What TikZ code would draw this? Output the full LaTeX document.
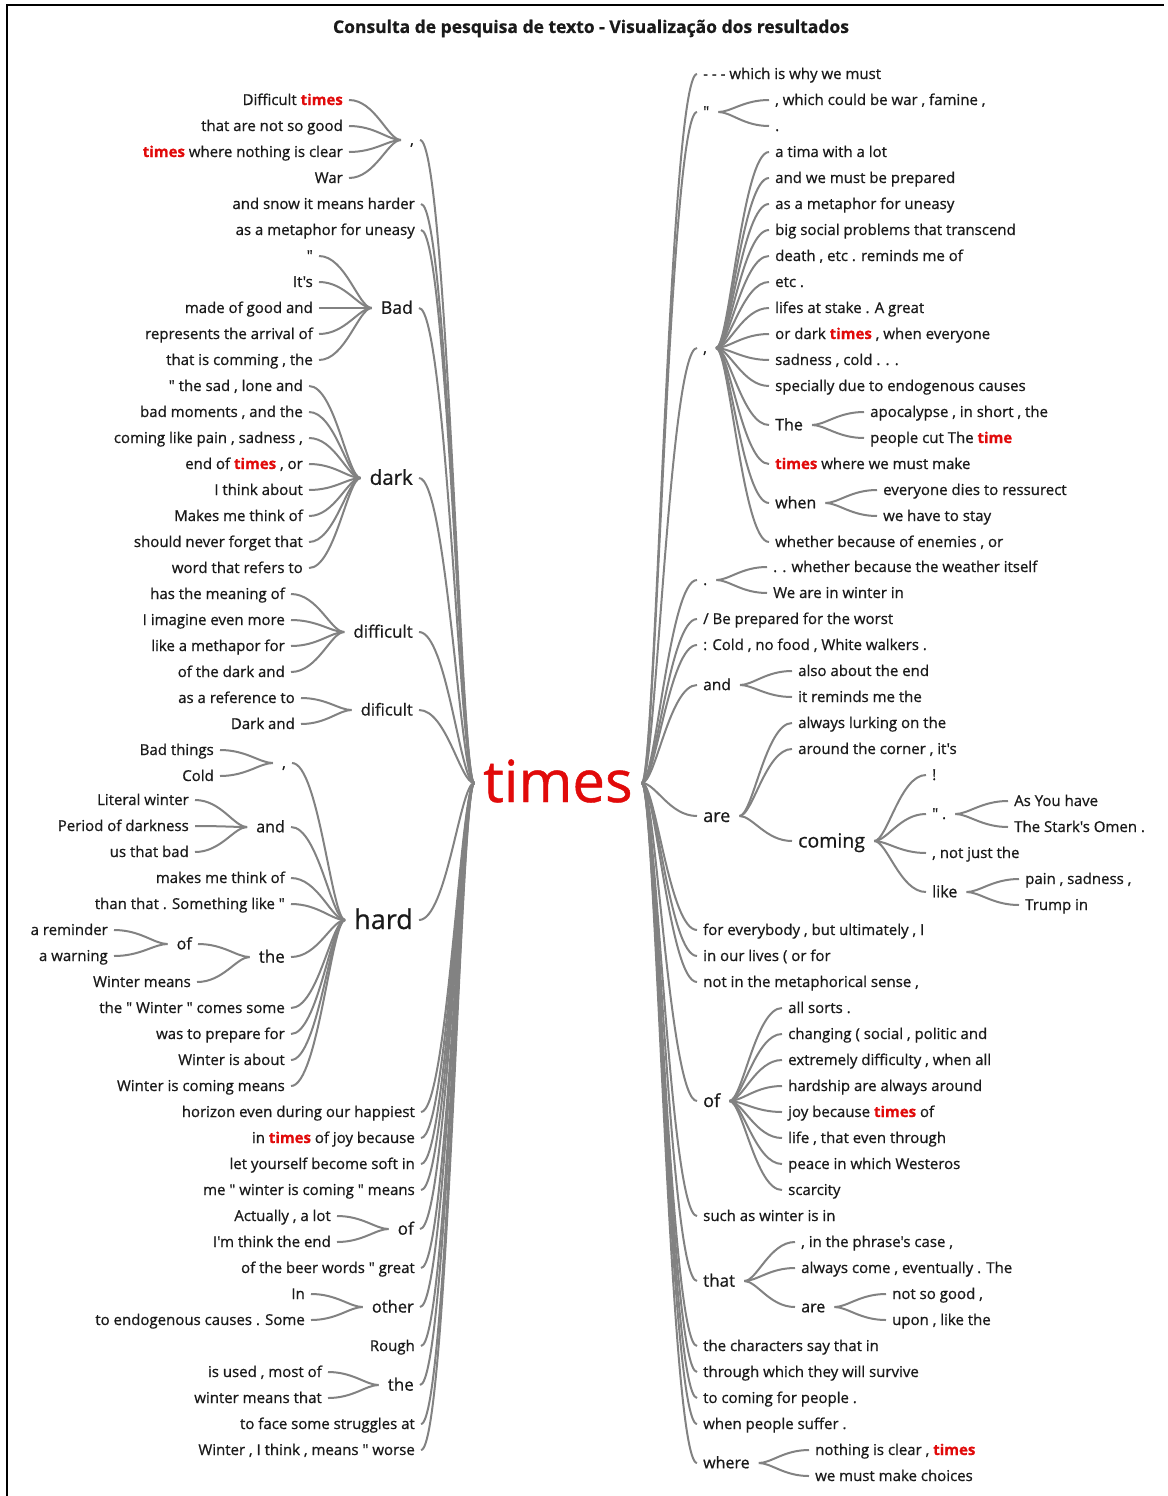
\documentclass[tikz,border=0pt]{standalone}
\usepackage{fontspec}
\setmainfont{Open Sans}[Ligatures=TeXOff,FakeBold=0.8]
\usetikzlibrary{calc}
\definecolor{txtc}{RGB}{26,26,26}
\definecolor{hlred}{RGB}{225,10,10}
\definecolor{brc}{RGB}{130,130,130}
\newcommand\hl[1]{{\bfseries\color{hlred}#1}}
\newcommand\brL[2]{\draw[br] let \p1=([xshift=6pt]#1.east), \p2=([xshift=-9pt]#2.west) in (\p1) .. controls ({0.5*\x1+0.5*\x2},\y1) and ({0.25*\x1+0.75*\x2},\y2) .. (\p2);}
\newcommand\brR[2]{\draw[br] let \p1=([xshift=9pt]#1.east), \p2=([xshift=-6pt]#2.west) in (\p1) .. controls ({0.75*\x1+0.25*\x2},\y1) and ({0.5*\x1+0.5*\x2},\y2) .. (\p2);}
\begin{document}
\begin{tikzpicture}[x=1pt,y=-1pt,
  every node/.style={inner sep=0pt,text=txtc,font=\fontsize{15}{15}\selectfont,text height=10pt,text depth=0pt},
  onL/.style={anchor=east}, onR/.style={anchor=west},
  sz/.style 2 args={font=\fontsize{#1}{#1}\selectfont,text height=#2pt},
  br/.style={draw=brc,line width=2pt}]
\useasboundingbox (0,0) rectangle (1167,1496);
\draw[line width=2pt] (7,1496) -- (7,5) -- (1164,5);
\node[font=\bfseries\fontsize{17.5}{17.5}\selectfont,text height=12pt] (title) at (591,27) {Consulta de pesquisa de texto - Visualização dos resultados};
\node[text=hlred,font=\fontsize{58}{58}\selectfont,anchor=base,text height=38pt] (T) at (558,802) {times};
% ---------------- left side ----------------
\node[onL] (La) at (414,140) {,};
\node[onL] (La1) at (343,100) {Difficult \hl{times}};
\node[onL] (La2) at (343,126) {that are not so good};
\node[onL] (La3) at (343,152) {\hl{times} where nothing is clear};
\node[onL] (La4) at (343,178) {War};
\node[onL] (Lb) at (415,204) {and snow it means harder};
\node[onL] (Lc) at (415,230) {as a metaphor for uneasy};
\node[onL,sz={17.5}{11.6}] (Ld) at (413,308) {Bad};
\node[onL] (Ld1) at (313,256) {"};
\node[onL] (Ld2) at (313,282) {It's};
\node[onL] (Ld3) at (313,308) {made of good and};
\node[onL] (Ld4) at (313,334) {represents the arrival of};
\node[onL] (Ld5) at (313,360) {that is comming , the};
\node[onL,sz={20.5}{13.6}] (Le) at (413,478) {dark};
\node[onL] (Le1) at (303,386) {" the sad , lone and};
\node[onL] (Le2) at (303,412) {bad moments , and the};
\node[onL] (Le3) at (303,438) {coming like pain , sadness ,};
\node[onL] (Le4) at (303,464) {end of \hl{times} , or};
\node[onL] (Le5) at (303,490) {I think about};
\node[onL] (Le6) at (303,516) {Makes me think of};
\node[onL] (Le7) at (303,542) {should never forget that};
\node[onL] (Le8) at (303,568) {word that refers to};
\node[onL,sz={17}{11.3}] (Lf) at (413,632) {difficult};
\node[onL] (Lf1) at (285,594) {has the meaning of};
\node[onL] (Lf2) at (285,620) {I imagine even more};
\node[onL] (Lf3) at (285,646) {like a methapor for};
\node[onL] (Lf4) at (285,672) {of the dark and};
\node[onL,sz={16.5}{11}] (Lg) at (413,710) {dificult};
\node[onL] (Lg1) at (295,698) {as a reference to};
\node[onL] (Lg2) at (295,724) {Dark and};
\node[onL,sz={27}{18}] (Lh) at (413,920) {hard};
\node[onL] (Lh1) at (286,763) {,};
\node[onL] (Lh1a) at (214,750) {Bad things};
\node[onL] (Lh1b) at (214,776) {Cold};
\node[onL,sz={16}{10.6}] (Lh2) at (285,827) {and};
\node[onL] (Lh2a) at (189,800) {Literal winter};
\node[onL] (Lh2b) at (189,826) {Period of darkness};
\node[onL] (Lh2c) at (189,852) {us that bad};
\node[onL] (Lh3) at (285,878) {makes me think of};
\node[onL] (Lh4) at (285,904) {than that . Something like "};
\node[onL,sz={17}{11.3}] (Lh5) at (285,957) {the};
\node[onL,sz={16}{10.6}] (Lh5a) at (192,944) {of};
\node[onL] (Lh5a1) at (108,930) {a reminder};
\node[onL] (Lh5a2) at (108,956) {a warning};
\node[onL] (Lh5b) at (191,982) {Winter means};
\node[onL] (Lh6) at (285,1008) {the " Winter " comes some};
\node[onL] (Lh7) at (285,1034) {was to prepare for};
\node[onL] (Lh8) at (285,1060) {Winter is about};
\node[onL] (Lh9) at (285,1086) {Winter is coming means};
\node[onL] (Li) at (415,1112) {horizon even during our happiest};
\node[onL] (Lj) at (415,1138) {in \hl{times} of joy because};
\node[onL] (Lk) at (415,1164) {let yourself become soft in};
\node[onL] (Ll) at (415,1190) {me " winter is coming " means};
\node[onL,sz={17}{11.3}] (Lm) at (414,1229) {of};
\node[onL] (Lm1) at (331,1216) {Actually , a lot};
\node[onL] (Lm2) at (331,1242) {I'm think the end};
\node[onL] (Ln) at (415,1268) {of the beer words " great};
\node[onL,sz={16.5}{11}] (Lo) at (414,1307) {other};
\node[onL] (Lo1) at (305,1294) {In};
\node[onL] (Lo2) at (305,1320) {to endogenous causes . Some};
\node[onL] (Lp) at (415,1346) {Rough};
\node[onL,sz={17}{11.3}] (Lq) at (414,1385) {the};
\node[onL] (Lq1) at (322,1372) {is used , most of};
\node[onL] (Lq2) at (322,1398) {winter means that};
\node[onL] (Lr) at (415,1424) {to face some struggles at};
\node[onL] (Ls) at (415,1450) {Winter , I think , means " worse};
% ---------------- right side ----------------
\node[onR] (Ra) at (703,74) {- - - which is why we must};
\node[onR] (Rb) at (703,112) {"};
\node[onR] (Rb1) at (775,100) {, which could be war , famine ,};
\node[onR] (Rb2) at (775,126) {.};
\node[onR] (Rc) at (703,348) {,};
\node[onR] (Rc1) at (775,152) {a tima with a lot};
\node[onR] (Rc2) at (775,178) {and we must be prepared};
\node[onR] (Rc3) at (775,204) {as a metaphor for uneasy};
\node[onR] (Rc4) at (775,230) {big social problems that transcend};
\node[onR] (Rc5) at (775,256) {death , etc . reminds me of};
\node[onR] (Rc6) at (775,282) {etc .};
\node[onR] (Rc7) at (775,308) {lifes at stake . A great};
\node[onR] (Rc8) at (775,334) {or dark \hl{times} , when everyone};
\node[onR] (Rc9) at (775,360) {sadness , cold . . .};
\node[onR] (Rc10) at (775,386) {specially due to endogenous causes};
\node[onR,sz={16}{10.6}] (Rc11) at (775,425) {The};
\node[onR] (Rc11a) at (870,412) {apocalypse , in short , the};
\node[onR] (Rc11b) at (870,438) {people cut The \hl{time}};
\node[onR] (Rc12) at (775,464) {\hl{times} where we must make};
\node[onR,sz={16}{10.6}] (Rc13) at (775,503) {when};
\node[onR] (Rc13a) at (883,490) {everyone dies to ressurect};
\node[onR] (Rc13b) at (883,516) {we have to stay};
\node[onR] (Rc14) at (775,542) {whether because of enemies , or};
\node[onR] (Rd) at (703,580) {.};
\node[onR] (Rd1) at (773,567) {. . whether because the weather itself};
\node[onR] (Rd2) at (773,593) {We are in winter in};
\node[onR] (Re) at (703,619) {/ Be prepared for the worst};
\node[onR] (Rf) at (703,645) {: Cold , no food , White walkers .};
\node[onR,sz={15.5}{10.3}] (Rg) at (703,685) {and};
\node[onR] (Rg1) at (798,671) {also about the end};
\node[onR] (Rg2) at (798,697) {it reminds me the};
\node[onR,sz={18}{12}] (Rh) at (703,816) {are};
\node[onR] (Rh1) at (798,723) {always lurking on the};
\node[onR] (Rh2) at (798,749) {around the corner , it's};
\node[onR,sz={19.5}{13}] (Rh3) at (798,841) {coming};
\node[onR] (Rh3a) at (932,775) {!};
\node[onR] (Rh3b) at (932,814) {" .};
\node[onR] (Rh3b1) at (1014,801) {As You have};
\node[onR] (Rh3b2) at (1014,827) {The Stark's Omen .};
\node[onR] (Rh3c) at (932,853) {, not just the};
\node[onR,sz={16}{10.6}] (Rh3d) at (932,892) {like};
\node[onR] (Rh3d1) at (1025,879) {pain , sadness ,};
\node[onR] (Rh3d2) at (1025,905) {Trump in};
\node[onR] (Ri) at (703,930) {for everybody , but ultimately , I};
\node[onR] (Rj) at (703,956) {in our lives ( or for};
\node[onR] (Rk) at (703,982) {not in the metaphorical sense ,};
\node[onR,sz={18}{12}] (Rl) at (703,1101) {of};
\node[onR] (Rl1) at (788,1008) {all sorts .};
\node[onR] (Rl2) at (788,1034) {changing ( social , politic and};
\node[onR] (Rl3) at (788,1060) {extremely difficulty , when all};
\node[onR] (Rl4) at (788,1086) {hardship are always around};
\node[onR] (Rl5) at (788,1112) {joy because \hl{times} of};
\node[onR] (Rl6) at (788,1138) {life , that even through};
\node[onR] (Rl7) at (788,1164) {peace in which Westeros};
\node[onR] (Rl8) at (788,1190) {scarcity};
\node[onR] (Rm) at (703,1216) {such as winter is in};
\node[onR,sz={17}{11.3}] (Rn) at (703,1281) {that};
\node[onR] (Rn1) at (801,1242) {, in the phrase's case ,};
\node[onR] (Rn2) at (801,1268) {always come , eventually . The};
\node[onR,sz={16}{10.6}] (Rn3) at (801,1307) {are};
\node[onR] (Rn3a) at (892,1294) {not so good ,};
\node[onR] (Rn3b) at (892,1320) {upon , like the};
\node[onR] (Ro) at (703,1346) {the characters say that in};
\node[onR] (Rp) at (703,1372) {through which they will survive};
\node[onR] (Rq) at (703,1398) {to coming for people .};
\node[onR] (Rr) at (703,1424) {when people suffer .};
\node[onR,sz={16}{10.6}] (Rs) at (703,1463) {where};
\node[onR] (Rs1) at (815,1450) {nothing is clear , \hl{times}};
\node[onR] (Rs2) at (815,1476) {we must make choices};
% ---------------- connectors left ----------------
\foreach \c in {La,Lb,Lc,Ld,Le,Lf,Lg,Lh,Li,Lj,Lk,Ll,Lm,Ln,Lo,Lp,Lq,Lr,Ls} {\brL{\c}{T}}
\foreach \c in {La1,La2,La3,La4} {\brL{\c}{La}}
\foreach \c in {Ld1,Ld2,Ld3,Ld4,Ld5} {\brL{\c}{Ld}}
\foreach \c in {Le1,Le2,Le3,Le4,Le5,Le6,Le7,Le8} {\brL{\c}{Le}}
\foreach \c in {Lf1,Lf2,Lf3,Lf4} {\brL{\c}{Lf}}
\foreach \c in {Lg1,Lg2} {\brL{\c}{Lg}}
\foreach \c in {Lh1,Lh2,Lh3,Lh4,Lh5,Lh6,Lh7,Lh8,Lh9} {\brL{\c}{Lh}}
\foreach \c in {Lh1a,Lh1b} {\brL{\c}{Lh1}}
\foreach \c in {Lh2a,Lh2b,Lh2c} {\brL{\c}{Lh2}}
\foreach \c in {Lh5a,Lh5b} {\brL{\c}{Lh5}}
\foreach \c in {Lh5a1,Lh5a2} {\brL{\c}{Lh5a}}
\foreach \c in {Lm1,Lm2} {\brL{\c}{Lm}}
\foreach \c in {Lo1,Lo2} {\brL{\c}{Lo}}
\foreach \c in {Lq1,Lq2} {\brL{\c}{Lq}}
% ---------------- connectors right ----------------
\foreach \c in {Ra,Rb,Rc,Rd,Re,Rf,Rg,Rh,Ri,Rj,Rk,Rl,Rm,Rn,Ro,Rp,Rq,Rr,Rs} {\brR{T}{\c}}
\foreach \c in {Rb1,Rb2} {\brR{Rb}{\c}}
\foreach \c in {Rc1,Rc2,Rc3,Rc4,Rc5,Rc6,Rc7,Rc8,Rc9,Rc10,Rc11,Rc12,Rc13,Rc14} {\brR{Rc}{\c}}
\foreach \c in {Rc11a,Rc11b} {\brR{Rc11}{\c}}
\foreach \c in {Rc13a,Rc13b} {\brR{Rc13}{\c}}
\foreach \c in {Rd1,Rd2} {\brR{Rd}{\c}}
\foreach \c in {Rg1,Rg2} {\brR{Rg}{\c}}
\foreach \c in {Rh1,Rh2,Rh3} {\brR{Rh}{\c}}
\foreach \c in {Rh3a,Rh3b,Rh3c,Rh3d} {\brR{Rh3}{\c}}
\foreach \c in {Rh3b1,Rh3b2} {\brR{Rh3b}{\c}}
\foreach \c in {Rh3d1,Rh3d2} {\brR{Rh3d}{\c}}
\foreach \c in {Rl1,Rl2,Rl3,Rl4,Rl5,Rl6,Rl7,Rl8} {\brR{Rl}{\c}}
\foreach \c in {Rn1,Rn2,Rn3} {\brR{Rn}{\c}}
\foreach \c in {Rn3a,Rn3b} {\brR{Rn3}{\c}}
\foreach \c in {Rs1,Rs2} {\brR{Rs}{\c}}
\end{tikzpicture}
\end{document}
